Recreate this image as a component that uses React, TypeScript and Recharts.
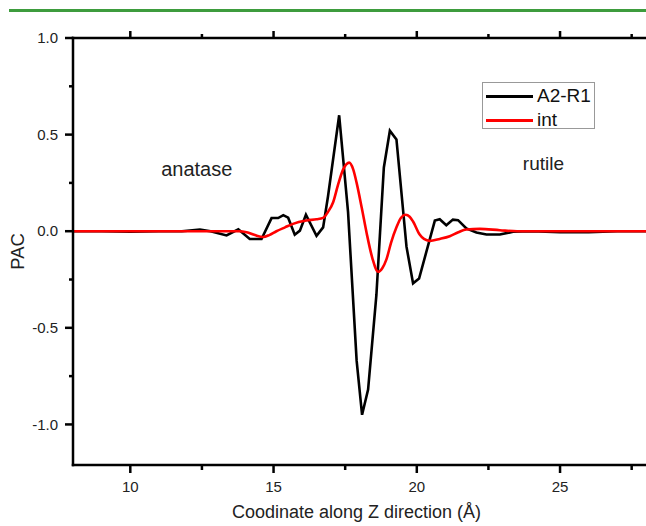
import { LineChart, Line, XAxis, YAxis, Legend, ReferenceDot } from "recharts"

const FONT = "'Liberation Sans', Arial, sans-serif"

// A2-R1 (black)
const a2X = [8, 9, 10, 11, 11.8, 12.43, 12.8, 13.36, 13.77, 14.17, 14.58, 14.93, 15.16, 15.34, 15.51, 15.74, 15.92, 16.13, 16.5, 16.73, 16.9, 17.29, 17.6, 17.9, 18.09, 18.3, 18.59, 18.85, 19.06, 19.29, 19.64, 19.87, 20.08, 20.63, 20.8, 21.03, 21.26, 21.44, 21.73, 22.08, 22.43, 22.9, 23.36, 24, 25, 26, 27, 28]
const a2Y = [0, 0, -0.003, 0, 0, 0.008, 0, -0.022, 0.01, -0.04, -0.04, 0.068, 0.068, 0.083, 0.07, -0.018, 0.003, 0.085, -0.024, 0.02, 0.18, 0.6, 0.1, -0.67, -0.95, -0.82, -0.33, 0.33, 0.52, 0.475, -0.08, -0.27, -0.245, 0.055, 0.062, 0.031, 0.06, 0.057, 0.014, -0.007, -0.017, -0.017, -0.003, 0, -0.005, -0.005, 0, 0]

// int (red)
const intX = [8, 10, 12, 13, 13.8, 14.06, 14.35, 14.64, 14.85, 15.1, 15.4, 15.68, 16.14, 16.5, 16.73, 16.9, 17.08, 17.25, 17.43, 17.64, 17.78, 17.9, 18.08, 18.25, 18.45, 18.65, 18.8, 18.94, 19.1, 19.29, 19.45, 19.61, 19.75, 19.87, 20.1, 20.25, 20.45, 20.8, 21.15, 21.45, 21.73, 22.2, 22.9, 23.5, 25, 28]
const intY = [0, 0, 0, 0, 0, -0.005, -0.02, -0.03, -0.02, 0, 0.02, 0.038, 0.055, 0.062, 0.069, 0.1, 0.15, 0.24, 0.32, 0.355, 0.32, 0.25, 0.12, -0.01, -0.14, -0.21, -0.19, -0.146, -0.06, 0.02, 0.07, 0.085, 0.075, 0.05, -0.017, -0.04, -0.05, -0.04, -0.026, -0.005, 0.009, 0.012, 0.005, 0, 0, 0]

const xTicks = [10, 12.5, 15, 17.5, 20, 22.5, 25, 27.5]
const xMajor = [10, 15, 20, 25]
const yTicks = [-1, -0.75, -0.5, -0.25, 0, 0.25, 0.5, 0.75, 1]
const yMajor = [-1, -0.5, 0, 0.5, 1]

const regionText = ["anatase", "rutile"]
const regionX = [12.32, 24.42]
const regionY = [0.32, 0.35]

const a2Data = a2X.map((x, i) => ({ x, v: a2Y[i] }))
const intData = intX.map((x, i) => ({ x, v: intY[i] }))

function BottomTick({ x, y, payload }: any) {
  const major = xMajor.includes(payload.value)
  return (
    <g>
      <line x1={x} x2={x} y1={y} y2={y + (major ? 8 : 5)} stroke="#000" strokeWidth={2.5} />
      {major && (
        <text x={x} y={y + 27} textAnchor="middle" fontSize={15} fontFamily={FONT} fill="#222">
          {payload.value}
        </text>
      )}
    </g>
  )
}

function TopTick({ x, y, payload }: any) {
  const major = xMajor.includes(payload.value)
  return <line x1={x} x2={x} y1={y} y2={y - (major ? 7 : 4)} stroke="#000" strokeWidth={2.5} />
}

function LeftTick({ x, y, payload }: any) {
  const major = yMajor.includes(payload.value)
  return (
    <g>
      <line x1={x - (major ? 8 : 4)} x2={x} y1={y} y2={y} stroke="#000" strokeWidth={2.5} />
      {major && (
        <text x={x - 15} y={y} dy="0.35em" textAnchor="end" fontSize={15} fontFamily={FONT} fill="#222">
          {payload.value.toFixed(1)}
        </text>
      )}
    </g>
  )
}

function LegendBox({ payload }: any) {
  return (
    <div
      style={{
        border: "1px solid #999",
        width: 113,
        height: 47,
        paddingTop: 1,
        boxSizing: "border-box",
        background: "#fff",
        fontFamily: FONT,
        fontSize: 19,
        color: "#111",
      }}
    >
      {(payload || []).map((p: any) => (
        <div key={p.value} style={{ display: "flex", alignItems: "center", height: 24 }}>
          <span style={{ width: 47, height: 0, borderTop: `3px solid ${p.color}`, marginLeft: 3, marginRight: 4 }} />
          <span style={{ lineHeight: "24px" }}>{p.value}</span>
        </div>
      ))}
    </div>
  )
}

const axisLine = { stroke: "#000", strokeWidth: 2.5, strokeLinecap: "square" as const }

export default function App() {
  return (
    <div style={{ position: "absolute", top: 0, left: 0, width: 646, height: 526, overflow: "hidden", background: "#fff" }}>
      <div style={{ position: "absolute", top: 9, left: 9, right: 0, height: 3, background: "#3d9c3d" }} />
      <LineChart width={646} height={526} margin={{ top: 8, right: 0, bottom: 0, left: 0 }}>
        <XAxis
          xAxisId="top"
          orientation="top"
          type="number"
          dataKey="x"
          domain={[8, 28]}
          ticks={xTicks}
          interval={0}
          height={30}
          tickSize={0}
          tickMargin={0}
          tickLine={false}
          tick={<TopTick />}
          axisLine={axisLine}
          allowDataOverflow
        />
        <XAxis
          xAxisId="bottom"
          type="number"
          dataKey="x"
          domain={[8, 28]}
          ticks={xTicks}
          interval={0}
          height={61}
          tickSize={0}
          tickMargin={0}
          tickLine={false}
          tick={<BottomTick />}
          axisLine={axisLine}
          allowDataOverflow
          label={(props: any) => {
            const vb = props.viewBox
            return (
              <text x={vb.x + vb.width / 2 - 3} y={vb.y + 53} textAnchor="middle" fontSize={18} fontFamily={FONT} fill="#222">
                Coodinate along Z direction (Å)
              </text>
            )
          }}
        />
        <YAxis
          type="number"
          domain={[-1.21, 1]}
          ticks={yTicks}
          interval={0}
          width={73}
          tickSize={0}
          tickMargin={0}
          tickLine={false}
          tick={<LeftTick />}
          axisLine={axisLine}
          allowDataOverflow
          label={(props: any) => {
            const vb = props.viewBox
            const cx = vb.x + 17.5
            const cy = vb.y + vb.height / 2
            return (
              <text x={cx} y={cy} transform={`rotate(-90, ${cx}, ${cy})`} textAnchor="middle" dominantBaseline="central" fontSize={18.5} fontFamily={FONT} fill="#222">
                PAC
              </text>
            )
          }}
        />
        <Legend
          layout="vertical"
          align="center"
          verticalAlign="middle"
          content={<LegendBox />}
          wrapperStyle={{ top: 82, left: 482, width: 115 }}
        />
        <Line
          xAxisId="bottom"
          data={a2Data}
          dataKey="v"
          name="A2-R1"
          type="linear"
          stroke="#000"
          strokeWidth={2.6}
          dot={false}
          isAnimationActive={false}
        />
        <Line
          xAxisId="bottom"
          data={intData}
          dataKey="v"
          name="int"
          type="monotone"
          stroke="#f00"
          strokeWidth={2.6}
          dot={false}
          isAnimationActive={false}
        />
        {regionText.map((t, i) => (
          <ReferenceDot
            key={t}
            xAxisId="bottom"
            x={regionX[i]}
            y={regionY[i]}
            r={0}
            fill="none"
            stroke="none"
            label={{ value: t, position: "center", fontSize: i === 0 ? 20 : 19, fontFamily: FONT, fill: "#222" }}
          />
        ))}
      </LineChart>
    </div>
  )
}
